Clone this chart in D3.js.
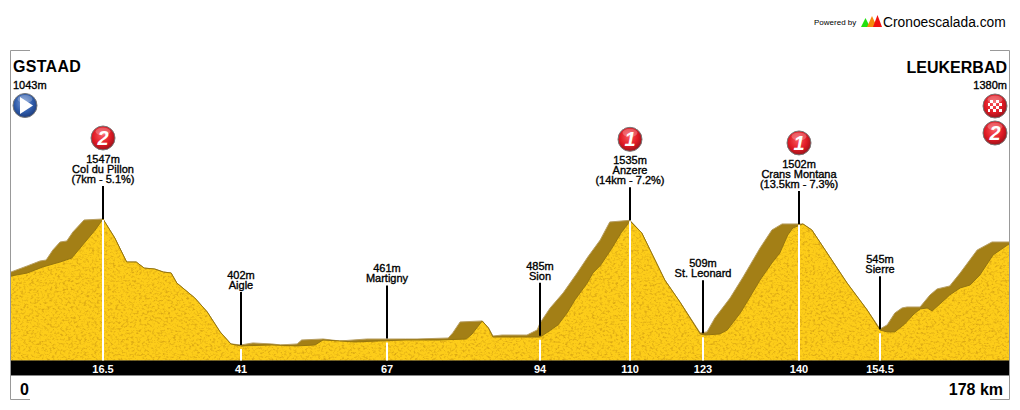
<!DOCTYPE html>
<html><head><meta charset="utf-8">
<script src="https://cdn.jsdelivr.net/npm/d3@7"></script>
<style>
html,body{margin:0;padding:0;background:#fff;overflow:hidden}
svg{display:block}
text{font-family:"Liberation Sans",Arial,sans-serif;fill:#000}
</style></head><body>
<div id="chart"></div>
<script>
// Skyline of the road (km, metres): the far edge of the relief
const skylineKm=[0,2.9,5.2,6.3,7.5,8.8,10,11.1,13.1,16.5,18.6,20.7,22.4,23.8,25.7,27.2,28.6,29.6,32.8,35,37.3,39.2,41,43.1,46.5,48,51,51.8,55.6,58.6,63.4,67,70.2,72.3,77.8,78.6,79.9,83.8,84.9,85.7,87.3,91.7,93.5,94,95.8,98.1,100.6,102.5,104.7,106.4,110,112.1,116.2,118.9,122.5,123.7,125.1,127.8,130.1,133.1,135.2,137,140.7,142.3,145.5,148.6,152.2,154.5,155.8,157.2,158.5,159.4,161.8,163.6,164.9,167.2,169.1,172.2,174.9,178];
const skylineM=[1065,1120,1165,1174,1265,1338,1347,1429,1538,1547,1374,1156,1156,1101,1092,1065,1056,965,829,702,520,411,402,420,411,402,411,447,456,438,456,456,456,456,465,511,611,620,556,483,492,492,538,601,738,874,1056,1202,1356,1520,1535,1420,992,792,511,520,647,829,1020,1283,1447,1502,1502,1447,1202,965,720,547,584,692,738,747,747,856,911,938,1056,1265,1338,1338];
// Near edge of the relief (km, metres): the lit yellow surface
const frontKm=[0,2.9,5.7,8.8,10.9,13.3,15.1,16.5,18.6,20.7,22.4,23.8,25.7,27.2,28.6,29.6,32.8,35,37.3,39.2,41,46.5,51,54.2,55.6,58.6,61.2,65.5,70.2,76.3,81,82,83.8,84.9,85.7,94,95.4,97.2,98.8,100.2,102.4,103.4,104.8,106.8,108.4,110,112.1,116.2,118.9,122.5,123.4,126,127.3,129.6,131,133.1,135.2,136.6,138,138.9,140.2,140.7,142.3,145.5,148.6,152.2,154.5,155.8,157.2,159,160.5,161.8,163.1,164,165.4,167.2,169.1,170.9,172.7,175.1,178];
const frontM=[1029,1056,1111,1156,1192,1338,1447,1547,1374,1156,1156,1101,1092,1065,1056,965,829,702,520,411,393,402,393,402,447,438,429,438,447,447,456,501,620,556,474,474,520,584,692,811,965,1056,1129,1283,1420,1529,1420,992,792,502,492,502,538,692,811,992,1147,1238,1401,1465,1492,1502,1447,1202,965,720,538,520,520,592,674,729,738,711,774,856,920,947,1038,1220,1320];
// Scale breakpoints and axis labels
const tickKm=[0,16.5,41,67,94,110,123,140,154.5,178];
const tickLabels=["16.5","41","67","94","110","123","140","154.5"];
const tickKmInner=[16.5,41,67,94,110,123,140,154.5];
// Named points along the route
const passKm=[16.5,41,67,94,110,123,140,154.5];
const passM=[1547,402,461,485,1535,509,1502,545];
const passName=["Col du Pillon","Aigle","Martigny","Sion","Anzere","St. Leonard","Crans Montana","Sierre"];
const passClimb=["(7km - 5.1%)","","","","(14km - 7.2%)","","(13.5km - 7.3%)",""];
const passCat=["2","","","","1","","1",""];
const startName="GSTAAD",startM="1043m",endName="LEUKERBAD",endM="1380m",endCat="2";

const W=1020,H=410,BAR_T=360.5,BAR_B=375;
const tickPx=[11,103,241,387,540,630,703,799,880,1009];
const x=d3.scaleLinear().domain(tickKm).range(tickPx);
const y=d3.scaleLinear().domain([265,1547]).range([360,219]);
const svg=d3.select("#chart").append("svg").attr("width",W).attr("height",H);
const defs=svg.append("defs");

function ballGrad(id,c0,c1,c2){
  const g=defs.append("radialGradient").attr("id",id).attr("cx","0.45").attr("cy","0.4").attr("r","0.62");
  g.append("stop").attr("offset","0").attr("stop-color",c0);
  g.append("stop").attr("offset","0.6").attr("stop-color",c1);
  g.append("stop").attr("offset","1").attr("stop-color",c2);
}
ballGrad("red","#f8555c","#e01a24","#94121a");
ballGrad("blue","#7f9fd8","#2f5cab","#1c3a78");
const chk=defs.append("pattern").attr("id","chk").attr("width",6).attr("height",6).attr("patternUnits","userSpaceOnUse").attr("x",990).attr("y",100);
chk.append("rect").attr("width",3).attr("height",3).attr("fill","#fff");
chk.append("rect").attr("x",3).attr("y",3).attr("width",3).attr("height",3).attr("fill","#fff");

const f=defs.append("filter").attr("id","grain").attr("x",0).attr("y",0).attr("width",1).attr("height",1).attr("color-interpolation-filters","sRGB");
f.append("feTurbulence").attr("type","fractalNoise").attr("baseFrequency","0.38 0.46").attr("numOctaves",3).attr("seed",7).attr("result","n");
f.append("feColorMatrix").attr("in","n").attr("type","matrix")
 .attr("values","0 0 0 0 0.86  0 0 0 0 0.66  0 0 0 0 0.08  3.2 0 0 0 -1.55").attr("result","spots");
f.append("feComposite").attr("in","spots").attr("in2","SourceAlpha").attr("operator","in").attr("result","s2");
f.append("feMerge").selectAll("feMergeNode").data(["SourceGraphic","s2"]).join("feMergeNode").attr("in",d=>d);

const area=d3.area().x(d=>x(d[0])).y0(BAR_T).y1(d=>y(d[1]));
const line=d3.line().x(d=>x(d[0])).y(d=>y(d[1]));
const sky=d3.zip(skylineKm,skylineM),front=d3.zip(frontKm,frontM);

svg.append("path").datum(sky).attr("d",area).attr("fill","#a37f16");
svg.append("path").datum(sky).attr("d",line).attr("fill","none").attr("stroke","#b89f62").attr("stroke-width",1);
svg.append("path").datum(front).attr("d",area).attr("fill","#fdcd1a").attr("filter","url(#grain)");
svg.append("path").datum(front).attr("d",line).attr("fill","none").attr("stroke","#94740f").attr("stroke-width",1);

// frame corners
const fr=svg.append("g").attr("fill","none").attr("stroke","#999").attr("stroke-width",1);
fr.append("path").attr("d",`M30,50.5H10.5V399.5H30`);
fr.append("path").attr("d",`M990,50.5H1009.5V399.5H990`);

// km band
svg.append("rect").attr("x",11).attr("y",BAR_T).attr("width",998).attr("height",BAR_B-BAR_T).attr("fill","#000");
svg.append("line").attr("x1",11).attr("x2",1009).attr("y1",375.5).attr("y2",375.5).attr("stroke","#888");
svg.append("g").selectAll("text").data(tickKmInner).join("text")
  .attr("x",d=>x(d)).attr("y",373).attr("text-anchor","middle").attr("font-size",11).attr("font-weight","bold")
  .style("fill","#fff").text((d,i)=>tickLabels[i]);

function ball(cx,cy,grad){
  const g=svg.append("g");
  g.append("circle").attr("cx",cx).attr("cy",cy).attr("r",12).attr("fill",`url(#${grad})`).attr("stroke","#777").attr("stroke-width",1);
  g.append("ellipse").attr("cx",cx).attr("cy",cy-6.5).attr("rx",7.5).attr("ry",4).attr("fill","#fff").attr("opacity",0.25);
  return g;
}
function catBall(cx,cy,c){
  const g=ball(cx,cy,"red");
  g.append("text").attr("x",cx).attr("y",cy+7).attr("text-anchor","middle").attr("font-size",20).attr("font-weight","bold").attr("font-style","italic").style("fill","#fff").text(c);
}

// stems and labels
passKm.forEach((km,i)=>{
  const major=passCat[i]!=="";
  const px=x(km),py=y(passM[i]);
  const stem=major?33:53;
  const topY=py-stem;
  svg.append("line").attr("x1",px).attr("x2",px).attr("y1",topY).attr("y2",py).attr("stroke","#000").attr("stroke-width",2);
  svg.append("line").attr("x1",px).attr("x2",px).attr("y1",py+(major?1:4)).attr("y2",BAR_T).attr("stroke","#fff").attr("stroke-width",2);
  const lines=[passM[i]+"m",passName[i]];
  if(passClimb[i]) lines.push(passClimb[i]);
  lines.forEach((t,j)=>{
    svg.append("text").attr("x",px).attr("y",topY-3-(lines.length-1-j)*10).attr("text-anchor","middle")
      .attr("font-size",11).style("stroke","#000").style("stroke-width",0.35).text(t);
  });
  if(major) catBall(px,topY-48,passCat[i]);
});

// start and finish
svg.append("text").attr("x",13).attr("y",72).attr("font-size",16).attr("font-weight","bold").attr("letter-spacing",0.3).text(startName);
svg.append("text").attr("x",13).attr("y",89).attr("font-size",11).style("stroke","#000").style("stroke-width",0.35).text(startM);
const sb=ball(25,105.5,"blue");
sb.append("path").attr("d",d3.line()([[20,97],[33,105.5],[20,114]])+"Z").attr("fill","#fff");
svg.append("text").attr("x",1007).attr("y",73).attr("text-anchor","end").attr("font-size",16).attr("font-weight","bold").text(endName);
svg.append("text").attr("x",1007).attr("y",89).attr("text-anchor","end").attr("font-size",11).style("stroke","#000").style("stroke-width",0.35).text(endM);
const fb=ball(995,106,"red");
fb.append("rect").attr("x",988).attr("y",100).attr("width",14).attr("height",12).attr("fill","url(#chk)");
catBall(995,133,endCat);
svg.append("text").attr("x",20).attr("y",395).attr("font-size",16).attr("font-weight","bold").text("0");
svg.append("text").attr("x",1003).attr("y",395).attr("text-anchor","end").attr("font-size",16).attr("font-weight","bold").text("178 km");

// credit
svg.append("text").attr("x",814).attr("y",25).attr("font-size",8).text("Powered by");
const tri=(a,b,t,c)=>svg.append("path").attr("d",`M${a},27L${(a+b)/2},${t}L${b},27Z`).attr("fill",c);
tri(861,870,18,"#22e011");tri(867,877,16,"#f58a0c");tri(873,882,15,"#f01010");
svg.append("text").attr("x",883).attr("y",27).attr("font-size",13.8).attr("fill","#222").text("Cronoescalada.com");
</script>
</body></html>
